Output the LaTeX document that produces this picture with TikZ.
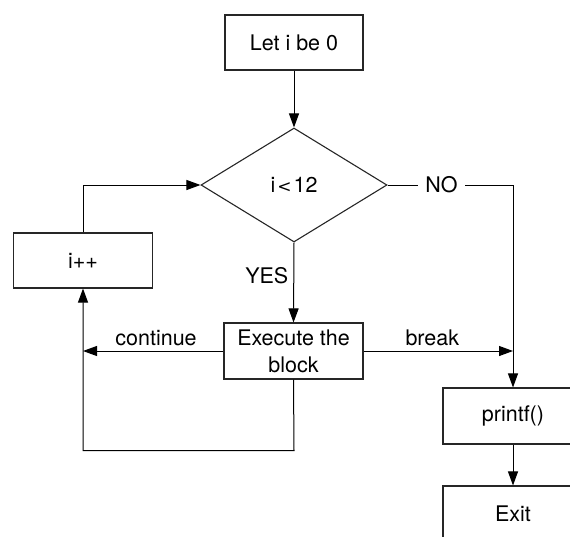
\documentclass[tikz,border=0pt]{standalone}
\usepackage{fontspec}
\setmainfont{TeX Gyre Heros}
\newfontfamily\djfont{DejaVu Sans}
\usetikzlibrary{shapes.geometric,arrows.meta}
\begin{document}
\begin{tikzpicture}[x=1pt,y=-1pt,
  every node/.style={font=\fontsize{21.5}{27}\selectfont},
  procbox/.style={draw=black!85,line width=1.1pt,minimum width=138pt,minimum height=55pt,inner sep=0pt,align=center},
  decbox/.style={draw=black!85,line width=1.1pt,diamond,minimum width=186pt,minimum height=114pt,inner sep=0pt},
  conn/.style={draw=black,line width=1pt},
  arr/.style={conn,-{Triangle[length=14pt,width=10pt]}},
  lbl/.style={inner sep=2pt}
]
\useasboundingbox (0,0) rectangle (570,536);
\clip (0,0) rectangle (570,536);
\node[procbox] (start) at (294,42.5) {Let i be 0};
\node[decbox] (dec) at (294,185) {i\kern2pt{\djfont\fontsize{17}{17}\selectfont<}\kern2pt12};
\node[procbox,minimum width=139pt] (inc) at (83,260.5) {i++};
\node[procbox,minimum width=139pt,minimum height=56pt] (exec) at (293.5,351) {Execute the\\block};
\node[procbox,minimum width=140pt,minimum height=56pt] (printf) at (513,416) {printf()};
\node[procbox,minimum width=140pt,minimum height=56pt] (exit) at (513,514) {Exit};
\coordinate (nocorner) at (513,185);
\coordinate (brk) at (513,351);
\coordinate (cont) at (83,351);
\coordinate (loopb) at (294,450.5);

\draw[arr] (start) -- (dec);
\draw[arr] (inc.north) |- (dec.west);
\draw[conn] (dec.east) -- node[lbl,fill=white,pos=0.43,inner sep=7pt] {NO} (nocorner);
\draw[arr] (nocorner) -- (printf.north);
\draw[arr] (dec.south) -- node[left,pos=0.42,inner sep=5pt] {YES} (exec.north);
\draw[arr] (exec.east) -- node[above,pos=0.46,inner sep=5pt] {break} (brk);
\draw[arr] (exec.west) -- node[above,pos=0.48,inner sep=5pt] {continue} (cont);
\draw[arr] (exec.south) -- (loopb) -| (inc.south);
\draw[arr] (printf) -- (exit);
\end{tikzpicture}
\end{document}
